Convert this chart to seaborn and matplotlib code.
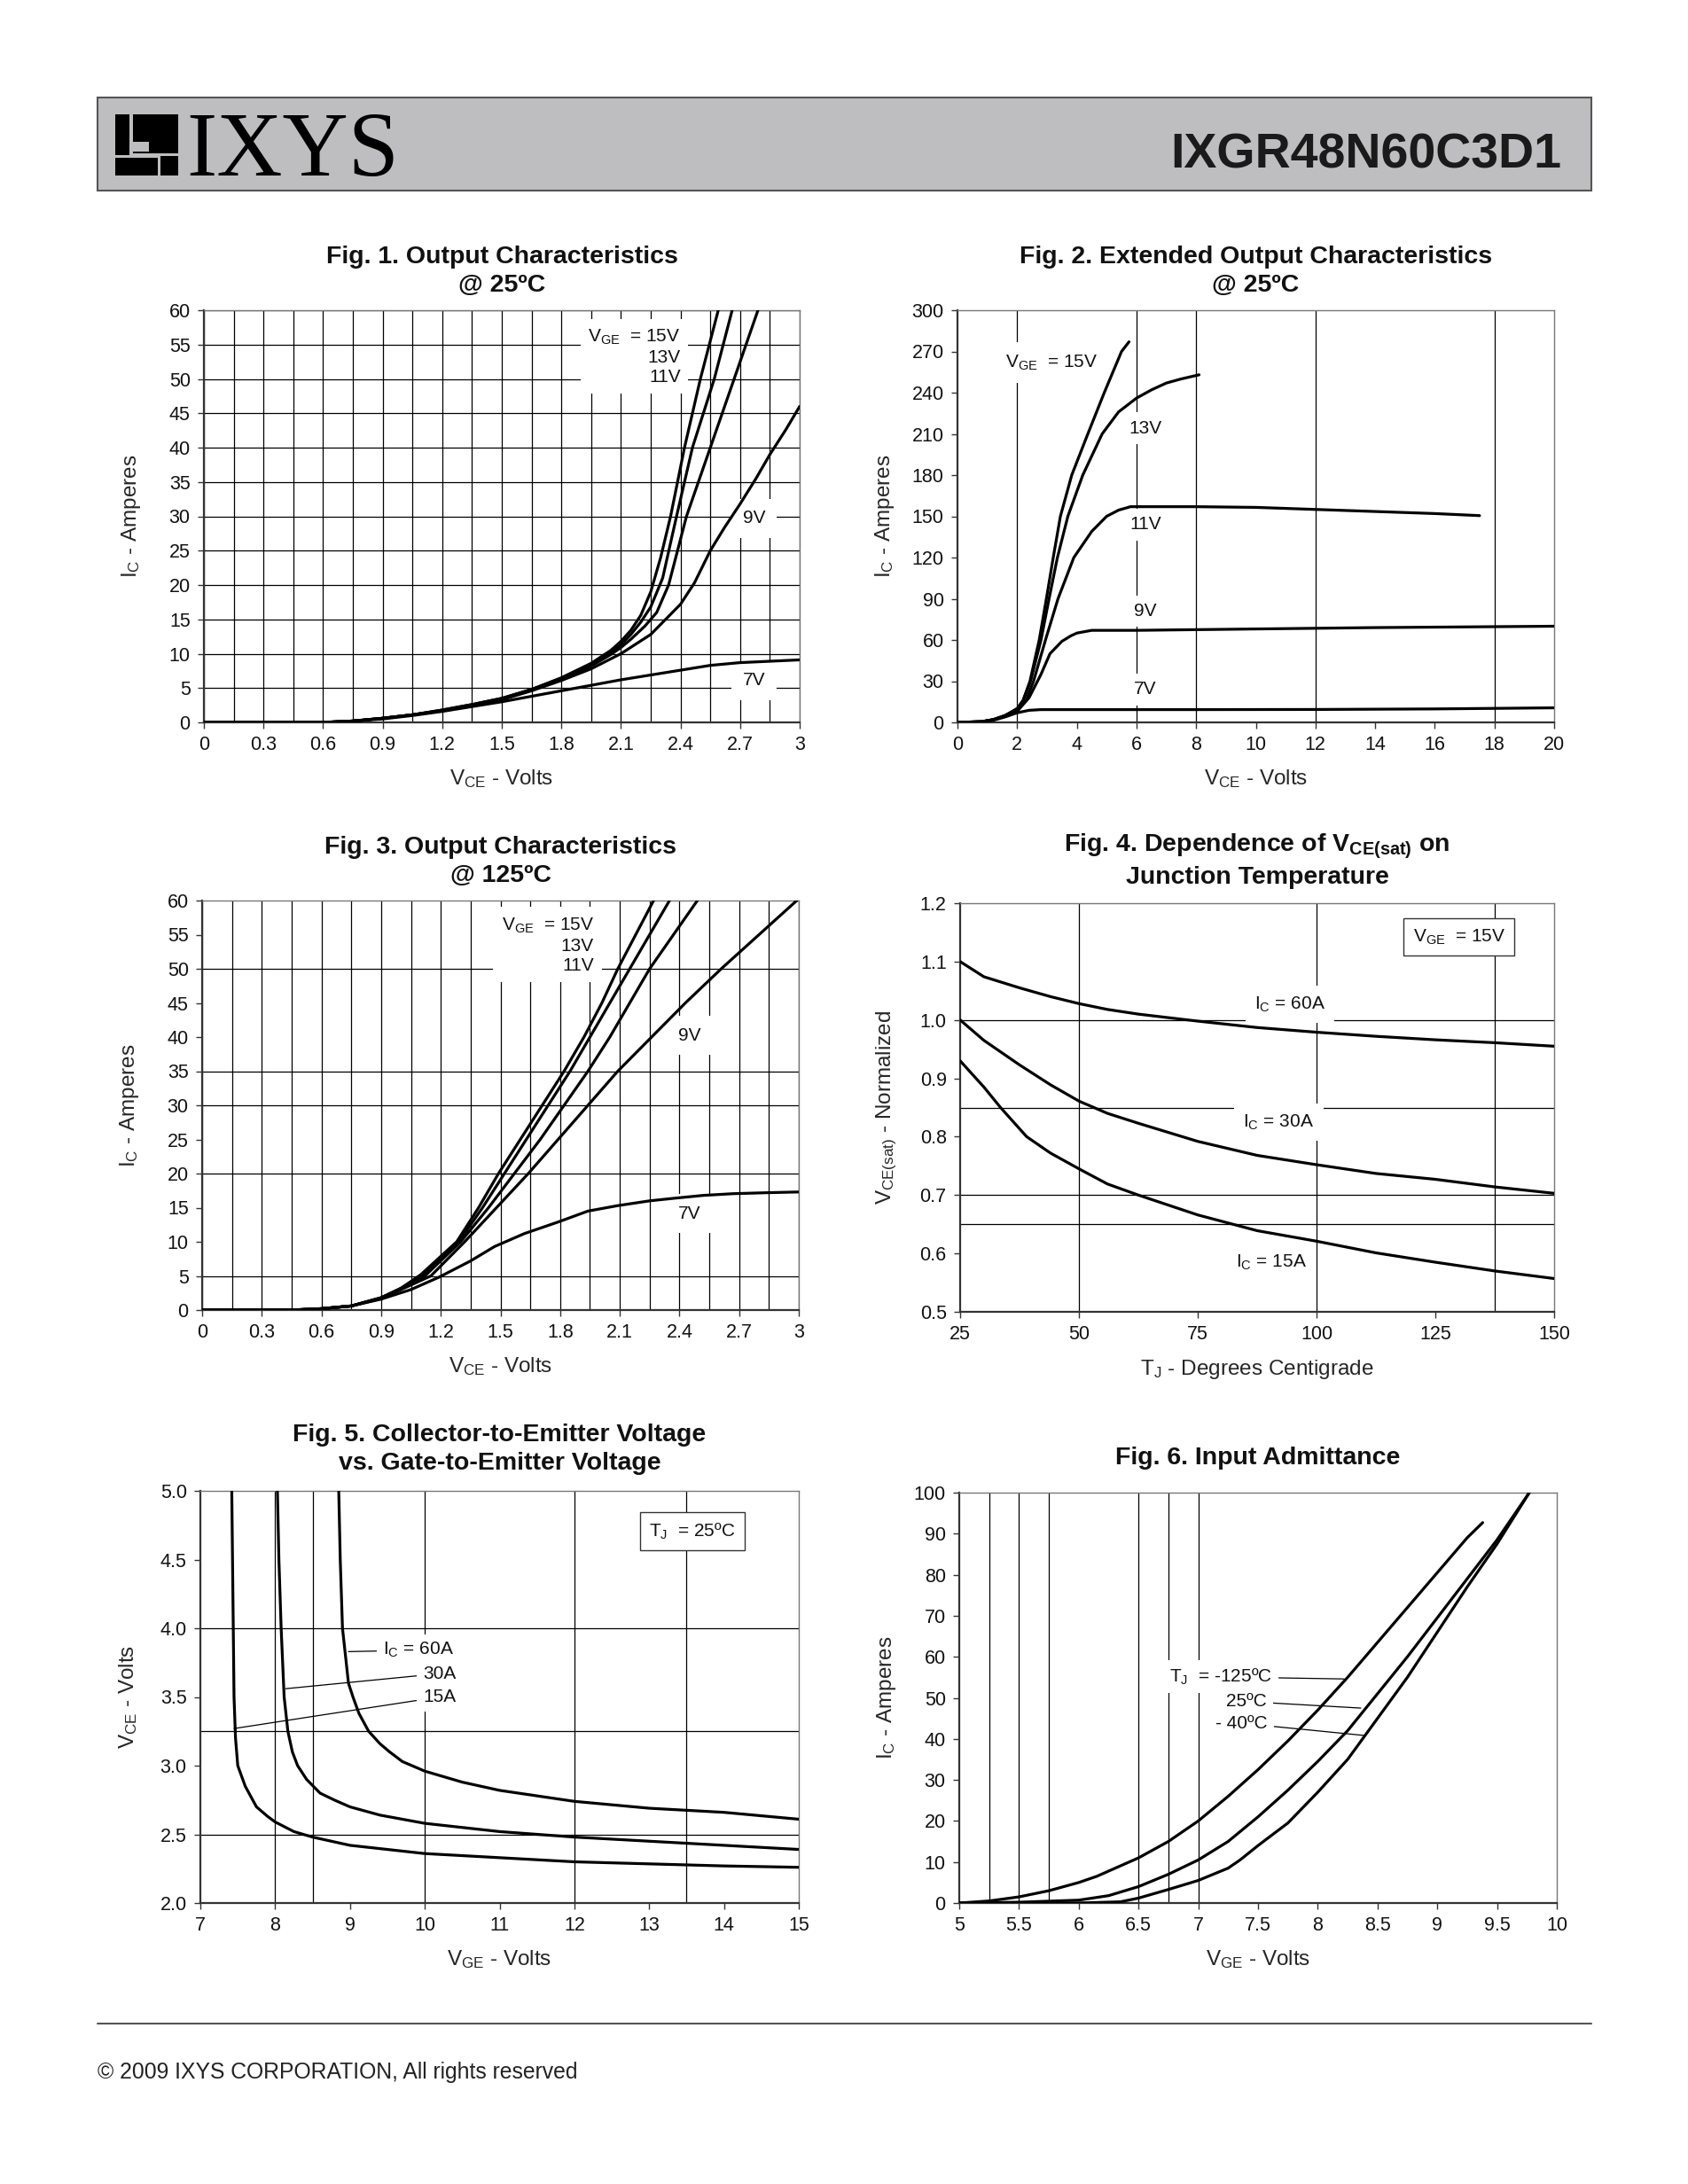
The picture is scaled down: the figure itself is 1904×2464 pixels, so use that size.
import matplotlib
matplotlib.use("Agg")
import matplotlib.pyplot as plt
from matplotlib.patches import Rectangle
from matplotlib.lines import Line2D
from matplotlib.ticker import FixedLocator, FormatStrFormatter
from matplotlib.transforms import blended_transform_factory
import pandas as pd
import seaborn as sns

# ---------------- Fig. 1 : Output characteristics @ 25C ----------------
f1_x15 = [0, 0.6, 0.75, 0.9, 1.05, 1.2, 1.35, 1.5, 1.65, 1.8, 1.95, 2.05, 2.1, 2.15, 2.2, 2.25, 2.3, 2.35, 2.42, 2.5, 2.59]
f1_y15 = [0, 0, 0.2, 0.6, 1.1, 1.8, 2.6, 3.5, 4.8, 6.5, 8.6, 10.5, 11.8, 13.4, 15.6, 19, 24, 30, 40, 50, 60]
f1_x13 = [0, 0.6, 0.75, 0.9, 1.05, 1.2, 1.35, 1.5, 1.65, 1.8, 1.95, 2.05, 2.1, 2.15, 2.2, 2.25, 2.31, 2.38, 2.46, 2.57, 2.66]
f1_y13 = [0, 0, 0.2, 0.6, 1.1, 1.8, 2.6, 3.5, 4.8, 6.4, 8.4, 10.2, 11.3, 12.8, 14.6, 16.8, 21, 30, 40, 50, 60]
f1_x11 = [0, 0.6, 0.75, 0.9, 1.05, 1.2, 1.35, 1.5, 1.65, 1.8, 1.95, 2.05, 2.1, 2.15, 2.22, 2.28, 2.34, 2.43, 2.55, 2.67, 2.79]
f1_y11 = [0, 0, 0.2, 0.6, 1.1, 1.7, 2.5, 3.4, 4.7, 6.3, 8.2, 9.9, 10.9, 12.1, 14.0, 16.0, 20, 30, 40, 50, 60]
f1_x9 = [0, 0.6, 0.75, 0.9, 1.05, 1.2, 1.35, 1.5, 1.65, 1.8, 1.95, 2.1, 2.25, 2.4, 2.47, 2.55, 2.62, 2.7, 2.78, 2.85, 2.93, 3.0]
f1_y9 = [0, 0, 0.2, 0.6, 1.1, 1.7, 2.4, 3.3, 4.6, 6.1, 7.8, 10.0, 12.8, 17.2, 20.3, 25, 28.3, 31.8, 35.5, 39, 42.6, 46]
f1_x7 = [0, 0.6, 0.75, 0.9, 1.05, 1.2, 1.35, 1.5, 1.65, 1.8, 1.95, 2.1, 2.25, 2.4, 2.55, 2.7, 2.85, 3.0]
f1_y7 = [0, 0, 0.2, 0.5, 1.0, 1.6, 2.3, 3.0, 3.8, 4.6, 5.4, 6.2, 6.9, 7.6, 8.3, 8.7, 8.9, 9.1]

# ---------------- Fig. 2 : Extended output characteristics ----------------
f2_x15 = [0, 0.8, 1.2, 1.6, 2.0, 2.2, 2.43, 2.74, 2.98, 3.21, 3.45, 3.83, 4.37, 4.92, 5.5, 5.75]
f2_y15 = [0, 0.5, 2, 5, 10, 16, 30, 60, 90, 120, 150, 180, 210, 240, 270, 277]
f2_x13 = [0, 0.8, 1.2, 1.6, 2.0, 2.2, 2.45, 2.8, 3.07, 3.35, 3.7, 4.2, 4.85, 5.4, 6.0, 6.5, 7.0, 7.5, 8.1]
f2_y13 = [0, 0.5, 2, 5, 10, 16, 30, 60, 90, 120, 150, 180, 210, 226, 236, 242, 247, 250, 253]
f2_x11 = [0, 0.8, 1.2, 1.6, 2.0, 2.3, 2.55, 2.95, 3.37, 3.9, 4.5, 5.0, 5.4, 5.8, 8, 10, 12, 14, 16, 17.5]
f2_y11 = [0, 0.5, 2, 5, 9, 16, 30, 60, 90, 120, 139, 150, 154.5, 157, 157, 156.5, 155, 153.5, 152, 150.5]
f2_x9 = [0, 0.8, 1.2, 1.6, 2.0, 2.4, 2.8, 3.1, 3.5, 3.8, 4.0, 4.5, 6, 8, 10, 14, 17, 20]
f2_y9 = [0, 0.5, 2, 4.5, 8, 18, 35, 50, 59, 63, 65, 67, 67, 67.5, 68, 69, 69.5, 70]
f2_x7 = [0, 0.8, 1.2, 1.6, 2.0, 2.4, 2.8, 4, 8, 12, 16, 18, 20]
f2_y7 = [0, 0.5, 1.5, 4, 7, 8.8, 9.3, 9.3, 9.3, 9.4, 9.8, 10.2, 10.6]

# ---------------- Fig. 3 : Output characteristics @ 125C ----------------
f3_x15 = [0, 0.45, 0.6, 0.75, 0.9, 1.0, 1.1, 1.28, 1.39, 1.49, 1.6, 1.71, 1.82, 1.92, 2.01, 2.09, 2.18, 2.27]
f3_y15 = [0, 0, 0.2, 0.6, 1.8, 3.2, 5.2, 10, 15, 20, 25, 30, 35, 40, 45, 50, 55, 60]
f3_x13 = [0, 0.45, 0.6, 0.75, 0.9, 1.0, 1.11, 1.29, 1.41, 1.52, 1.63, 1.74, 1.85, 1.95, 2.05, 2.15, 2.25, 2.35]
f3_y13 = [0, 0, 0.2, 0.6, 1.8, 3.2, 5.1, 10, 15, 20, 25, 30, 35, 40, 45, 50, 55, 60]
f3_x11 = [0, 0.45, 0.6, 0.75, 0.9, 1.0, 1.12, 1.3, 1.44, 1.57, 1.7, 1.82, 1.94, 2.05, 2.15, 2.25, 2.37, 2.49]
f3_y11 = [0, 0, 0.2, 0.6, 1.8, 3.1, 5.0, 10, 15, 20, 25, 30, 35, 40, 45, 50, 55, 60]
f3_x9 = [0, 0.45, 0.6, 0.75, 0.9, 1.0, 1.15, 1.32, 1.48, 1.64, 1.79, 1.94, 2.09, 2.26, 2.43, 2.61, 2.8, 2.99]
f3_y9 = [0, 0, 0.2, 0.6, 1.7, 3.0, 5.0, 10, 15, 20, 25, 30, 35, 40, 45, 50, 55, 60]
f3_x7 = [0, 0.45, 0.6, 0.75, 0.9, 1.05, 1.19, 1.35, 1.47, 1.62, 1.79, 1.94, 2.09, 2.25, 2.38, 2.52, 2.67, 2.85, 3.0]
f3_y7 = [0, 0, 0.2, 0.6, 1.6, 3.0, 4.8, 7.2, 9.3, 11.2, 12.9, 14.5, 15.3, 16.0, 16.4, 16.8, 17.05, 17.2, 17.3]

# ---------------- Fig. 4 : VCE(sat) vs junction temperature ----------------
f4_t60 = [25, 30, 37.5, 44, 50, 56, 62.5, 75, 87.5, 100, 112.5, 125, 137.5, 150]
f4_60A = [1.10, 1.074, 1.055, 1.040, 1.028, 1.018, 1.010, 0.998, 0.987, 0.979, 0.972, 0.966, 0.961, 0.955]
f4_t30 = [25, 30, 37.5, 44, 50, 56, 62.5, 75, 87.5, 100, 112.5, 125, 137.5, 150]
f4_30A = [1.00, 0.965, 0.923, 0.889, 0.861, 0.840, 0.823, 0.792, 0.768, 0.752, 0.737, 0.727, 0.714, 0.703]
f4_t15 = [25, 30, 33.5, 39, 44, 50, 56, 62.5, 75, 87.5, 100, 112.5, 125, 137.5, 150]
f4_15A = [0.93, 0.885, 0.850, 0.800, 0.772, 0.745, 0.719, 0.700, 0.666, 0.639, 0.621, 0.601, 0.585, 0.570, 0.557]

# ---------------- Fig. 5 : VCE vs VGE ----------------
f5_x15 = [7.42, 7.43, 7.44, 7.45, 7.47, 7.5, 7.6, 7.75, 7.9, 8.0, 8.25, 8.5, 9.0, 9.5, 10, 11, 12, 13, 14, 15]
f5_y15 = [5.0, 4.5, 4.0, 3.5, 3.2, 3.0, 2.85, 2.7, 2.63, 2.59, 2.52, 2.48, 2.42, 2.39, 2.36, 2.33, 2.30, 2.285, 2.27, 2.26]
f5_x30 = [8.03, 8.05, 8.08, 8.12, 8.17, 8.23, 8.3, 8.42, 8.6, 8.79, 9.0, 9.4, 10, 11, 12, 13, 14, 15]
f5_y30 = [5.0, 4.5, 4.0, 3.5, 3.25, 3.1, 3.0, 2.9, 2.8, 2.75, 2.7, 2.64, 2.58, 2.52, 2.48, 2.45, 2.42, 2.39]
f5_x60 = [8.85, 8.87, 8.9, 8.98, 9.04, 9.12, 9.25, 9.4, 9.53, 9.7, 10, 10.5, 11, 12, 13, 14, 15]
f5_y60 = [5.0, 4.5, 4.0, 3.6, 3.5, 3.38, 3.25, 3.16, 3.1, 3.03, 2.96, 2.88, 2.82, 2.74, 2.69, 2.66, 2.61]

# ---------------- Fig. 6 : Input admittance ----------------
f6_x125 = [5, 5.25, 5.5, 5.75, 6.0, 6.15, 6.5, 6.75, 7.0, 7.25, 7.5, 7.75, 8.0, 8.25, 8.5, 8.75, 9.0, 9.25, 9.38]
f6_y125 = [0, 0.5, 1.5, 3, 5, 6.5, 11, 15, 20, 26, 32.5, 39.5, 47, 55, 63.5, 72, 80.5, 89, 92.7]
f6_x25 = [5, 5.5, 6.0, 6.25, 6.5, 6.75, 7.0, 7.25, 7.5, 7.75, 8.0, 8.25, 8.5, 8.75, 9.0, 9.25, 9.5, 9.77]
f6_y25 = [0, 0.2, 0.7, 1.8, 4, 7, 10.5, 15, 21, 27.5, 34.5, 42, 51, 60, 69.5, 79, 88.5, 100]
f6_xm40 = [5, 6.0, 6.35, 6.5, 6.75, 7.0, 7.25, 7.35, 7.5, 7.75, 8.0, 8.25, 8.5, 8.75, 9.0, 9.25, 9.5, 9.77]
f6_ym40 = [0, 0, 0.3, 1.2, 3.3, 5.5, 8.5, 10.5, 14, 19.5, 27, 35, 45, 55, 66, 77, 87.5, 100]

# ---------------- tick labels / grids ----------------
ic_ticks_60 = [0, 5, 10, 15, 20, 25, 30, 35, 40, 45, 50, 55, 60]
vce_ticks_3 = [0, 0.3, 0.6, 0.9, 1.2, 1.5, 1.8, 2.1, 2.4, 2.7, 3]
vce_grid_3 = [i * 0.15 for i in range(21)]

# ====================================================================
sns.set_theme(style="white")
plt.rcParams['font.family'] = ['Liberation Sans', 'DejaVu Sans']
plt.rcParams['mathtext.fontset'] = 'custom'
plt.rcParams['mathtext.rm'] = 'Liberation Sans'
plt.rcParams['mathtext.it'] = 'Liberation Sans:italic'
plt.rcParams['mathtext.bf'] = 'Liberation Sans:bold'
plt.rcParams['text.color'] = '#111111'

W, H = 1904, 2464
fig = plt.figure(figsize=(W / 100, H / 100), dpi=100)
fig.patch.set_facecolor('white')

TICK_FS = 15.5
LAB_FS = 17.5
TITLE_FS = 20.5
ANN_FS = 15


def add_ax(x0, y0, x1, y1):
    ax = fig.add_axes([x0 / W, 1 - y1 / H, (x1 - x0) / W, (y1 - y0) / H])
    ax._left_px = x0
    return ax


def draw_curves(ax, curves):
    frames = []
    for name, (xs, ys) in curves.items():
        frames.append(pd.DataFrame({'x': xs, 'y': ys, 'curve': name}))
    df = pd.concat(frames, ignore_index=True)
    sns.lineplot(data=df, x='x', y='y', hue='curve', units='curve', estimator=None,
                 sort=False, palette={k: 'black' for k in curves}, legend=False,
                 linewidth=2.3, ax=ax, zorder=3)


def style(ax, xlim, ylim, xticks, yticks, xfmt, yfmt, vgrid, hgrid,
          title, xlabel, ylabel, title_pad=15):
    ax.set_xlim(xlim)
    ax.set_ylim(ylim)
    ax.set_xticks(xticks)
    ax.set_yticks(yticks)
    ax.xaxis.set_major_formatter(FormatStrFormatter(xfmt))
    ax.yaxis.set_major_formatter(FormatStrFormatter(yfmt))
    ax.xaxis.remove_overlapping_locs = False
    ax.yaxis.remove_overlapping_locs = False
    ax.xaxis.set_minor_locator(FixedLocator(vgrid))
    ax.yaxis.set_minor_locator(FixedLocator(hgrid))
    ax.grid(False, which='major')
    ax.grid(True, which='minor', color='black', linewidth=0.9)
    ax.tick_params(which='minor', length=0)
    ax.tick_params(which='major', direction='out', length=5, width=1.0,
                   color='#333333', pad=6, labelsize=TICK_FS, labelcolor='#111111',
                   bottom=True, left=True)
    for side in ['left', 'bottom']:
        ax.spines[side].set_color('#333333')
        ax.spines[side].set_linewidth(1.6)
    for side in ['top', 'right']:
        ax.spines[side].set_color('#777777')
        ax.spines[side].set_linewidth(1.0)
    ax.set_title(title, fontsize=TITLE_FS, fontweight='bold', pad=title_pad, linespacing=1.3)
    ax.set_xlabel(xlabel, fontsize=LAB_FS, labelpad=11)
    ax.set_ylabel(ylabel, fontsize=LAB_FS)
    ax.yaxis.set_label_coords((ax._left_px - 69) / W, 0.5,
                              transform=blended_transform_factory(fig.transFigure, ax.transAxes))


def label(ax, x, y, s, ha='center', va='center', pad=0.35, **kw):
    ax.text(x, y, s, ha=ha, va=va, fontsize=ANN_FS, zorder=2.5,
            bbox=dict(boxstyle='square', fc='white', ec='none', pad=pad), **kw)


VGE = r"V$_{\mathrm{GE}}$  = 15V"

# ---------------- Fig 1 ----------------
ax1 = add_ax(230, 350, 902, 815)
draw_curves(ax1, {'15V': (f1_x15, f1_y15), '13V': (f1_x13, f1_y13), '11V': (f1_x11, f1_y11),
                  '9V': (f1_x9, f1_y9), '7V': (f1_x7, f1_y7)})
style(ax1, (0, 3), (0, 60), vce_ticks_3, ic_ticks_60, '%g', '%g', vce_grid_3, ic_ticks_60,
      "Fig. 1. Output Characteristics\n@ 25ºC", r"V$_{\mathrm{CE}}$ - Volts", r"I$_{\mathrm{C}}$ - Amperes")
label(ax1, 2.40, 53.2, VGE + "\n13V\n11V", ha='right', pad=0.4, multialignment='right', linespacing=1.2)
label(ax1, 2.77, 29.7, "9V", pad=0.6)
label(ax1, 2.77, 6.1, "7V", pad=0.6)

# ---------------- Fig 2 ----------------
ax2 = add_ax(1080, 350, 1753, 815)
draw_curves(ax2, {'15V': (f2_x15, f2_y15), '13V': (f2_x13, f2_y13), '11V': (f2_x11, f2_y11),
                  '9V': (f2_x9, f2_y9), '7V': (f2_x7, f2_y7)})
style(ax2, (0, 20), (0, 300), list(range(0, 21, 2)), list(range(0, 301, 30)), '%g', '%g',
      [2, 6, 8, 12, 18], [],
      "Fig. 2. Extended Output Characteristics\n@ 25ºC", r"V$_{\mathrm{CE}}$ - Volts", r"I$_{\mathrm{C}}$ - Amperes")
label(ax2, 1.6, 262, VGE, ha='left', pad=0.6)
label(ax2, 6.3, 214, "13V", pad=0.4)
label(ax2, 6.3, 144, "11V", pad=0.4)
label(ax2, 6.3, 81, "9V", pad=0.4)
label(ax2, 6.3, 24, "7V", pad=0.4)

# ---------------- Fig 3 ----------------
ax3 = add_ax(228, 1016, 901, 1478)
draw_curves(ax3, {'15V': (f3_x15, f3_y15), '13V': (f3_x13, f3_y13), '11V': (f3_x11, f3_y11),
                  '9V': (f3_x9, f3_y9), '7V': (f3_x7, f3_y7)})
style(ax3, (0, 3), (0, 60), vce_ticks_3, ic_ticks_60, '%g', '%g', vce_grid_3, [5, 20, 30, 35, 50],
      "Fig. 3. Output Characteristics\n@ 125ºC", r"V$_{\mathrm{CE}}$ - Volts", r"I$_{\mathrm{C}}$ - Amperes")
label(ax3, 1.97, 53.5, VGE + "\n13V\n11V", ha='right', pad=0.45, multialignment='right', linespacing=1.2)
label(ax3, 2.45, 40.2, "9V", pad=0.6)
label(ax3, 2.45, 14.1, "7V", pad=0.6)

# ---------------- Fig 4 ----------------
ax4 = add_ax(1083, 1019, 1753, 1480)
draw_curves(ax4, {'60A': (f4_t60, f4_60A), '30A': (f4_t30, f4_30A), '15A': (f4_t15, f4_15A)})
style(ax4, (25, 150), (0.5, 1.2), [25, 50, 75, 100, 125, 150], [0.5, 0.6, 0.7, 0.8, 0.9, 1.0, 1.1, 1.2],
      '%g', '%.1f', [50, 100, 137.5], [0.65, 0.7, 0.85, 1.0],
      r"Fig. 4. Dependence of V$_{\mathbf{CE(sat)}}$ on" + "\nJunction Temperature",
      r"T$_{\mathrm{J}}$ - Degrees Centigrade", r"V$_{\mathrm{CE(sat)}}$ - Normalized", title_pad=16)
label(ax4, 94.4, 1.027, r"I$_{\mathrm{C}}$ = 60A", pad=0.5)
label(ax4, 92.0, 0.825, r"I$_{\mathrm{C}}$ = 30A", pad=0.5)
label(ax4, 90.5, 0.584, r"I$_{\mathrm{C}}$ = 15A", pad=0.5)
ax4.text(130, 1.142, VGE, ha='center', va='center', fontsize=ANN_FS, zorder=4,
         bbox=dict(boxstyle='square', fc='white', ec='#333333', lw=1.0, pad=0.5))

# ---------------- Fig 5 ----------------
ax5 = add_ax(226, 1682, 901, 2147)
draw_curves(ax5, {'60A': (f5_x60, f5_y60), '30A': (f5_x30, f5_y30), '15A': (f5_x15, f5_y15)})
style(ax5, (7, 15), (2.0, 5.0), list(range(7, 16)), [2.0, 2.5, 3.0, 3.5, 4.0, 4.5, 5.0],
      '%g', '%.1f', [8, 8.5, 10, 12, 13.5], [2.5, 3.25, 4.0],
      "Fig. 5. Collector-to-Emitter Voltage\nvs. Gate-to-Emitter Voltage",
      r"V$_{\mathrm{GE}}$ - Volts", r"V$_{\mathrm{CE}}$ - Volts", title_pad=17)
arrow = dict(arrowstyle='-', color='black', lw=0.9, shrinkA=0, shrinkB=0)
for s, xy, xyt in [(r"I$_{\mathrm{C}}$ = 60A", (8.98, 3.83), (9.44, 3.84)),
                   ("30A", (8.14, 3.56), (9.98, 3.67)),
                   ("15A", (7.45, 3.27), (9.98, 3.50))]:
    ax5.annotate(s, xy=xy, xytext=xyt, ha='left', va='center', fontsize=ANN_FS, zorder=2.5,
                 arrowprops=arrow, bbox=dict(boxstyle='square', fc='white', ec='none', pad=0.35))
ax5.text(13.58, 4.705, r"T$_{\mathrm{J}}$  = 25ºC", ha='center', va='center', fontsize=ANN_FS, zorder=4,
         bbox=dict(boxstyle='square', fc='white', ec='#333333', lw=1.0, pad=0.5))

# ---------------- Fig 6 ----------------
ax6 = add_ax(1082, 1684, 1756, 2147)
draw_curves(ax6, {'125': (f6_x125, f6_y125), '25': (f6_x25, f6_y25), '-40': (f6_xm40, f6_ym40)})
style(ax6, (5, 10), (0, 100), [5, 5.5, 6, 6.5, 7, 7.5, 8, 8.5, 9, 9.5, 10], list(range(0, 101, 10)),
      '%g', '%g', [5.25, 5.5, 5.75, 6.5, 6.75, 7.0], [],
      "Fig. 6. Input Admittance", r"V$_{\mathrm{GE}}$ - Volts", r"I$_{\mathrm{C}}$ - Amperes", title_pad=23)
for s, xy, xyt in [(r"T$_{\mathrm{J}}$  = -125ºC", (8.22, 54.6), (7.62, 55.1)),
                   ("25ºC", (8.36, 47.5), (7.57, 49.1)),
                   ("- 40ºC", (8.40, 40.8), (7.58, 43.8))]:
    ax6.annotate(s, xy=xy, xytext=xyt, ha='right', va='center', fontsize=ANN_FS, zorder=2.5,
                 arrowprops=arrow, bbox=dict(boxstyle='square', fc='white', ec='none', pad=0.35))

# ---------------- Header / footer ----------------
fig.add_artist(Rectangle((110 / W, 1 - 215 / H), (1795 - 110) / W, (215 - 110) / H,
                         transform=fig.transFigure, fc='#bebec0', ec='#555555', lw=1.5, zorder=0))


def px_rect(x0, y0, w, h, color='black'):
    fig.add_artist(Rectangle((x0 / W, 1 - (y0 + h) / H), w / W, h / H, transform=fig.transFigure,
                             fc=color, ec='none', zorder=1))


# logo icon
px_rect(130, 129, 16, 46)
px_rect(150, 129, 51, 44)
px_rect(150, 160, 18, 11, color='#bebec0')
px_rect(130, 178, 48, 20)
px_rect(181, 176, 20, 22)
fig.text(210 / W, 1 - 198 / H, "IXYS", fontsize=74, family=['Liberation Serif', 'DejaVu Serif'],
         ha='left', va='baseline', color='black', zorder=2)
fig.text(1761 / W, 1 - 189 / H, "IXGR48N60C3D1", fontsize=40, fontweight='bold',
         family=['Liberation Sans'], ha='right', va='baseline',
         color='#1a1a1a', zorder=2)

fig.add_artist(Line2D([110 / W, 1795 / W], [1 - 2283 / H, 1 - 2283 / H], color='#555555', lw=1.5))
fig.text(110 / W, 1 - 2338 / H, "© 2009 IXYS CORPORATION, All rights reserved", fontsize=17.8,
         ha='left', va='center', color='#222222')

fig.savefig("out.png", dpi=100, facecolor='white')
